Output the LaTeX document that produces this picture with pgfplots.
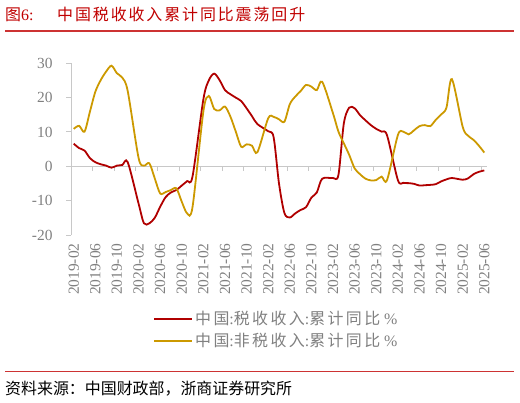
\documentclass[border=0pt]{standalone}
\usepackage{pgfplots}
\usepackage{pgfplotstable}
\pgfplotsset{compat=1.18}
\usepackage{fontspec}
\setmainfont{Liberation Serif}
\newfontfamily\cjk{Noto Sans CJK SC}
\newfontfamily\cjkls{Noto Sans CJK SC}[LetterSpace=12]
\newfontfamily\cjkleg{Noto Sans CJK SC}[LetterSpace=15]
\definecolor{taxred}{RGB}{176,0,0}
\definecolor{gold}{RGB}{204,153,0}
\definecolor{tickgray}{RGB}{128,128,128}
\definecolor{axgray}{RGB}{200,200,200}
\definecolor{titlered}{RGB}{192,0,0}

\pgfplotstableread{
x y
0.5 6.6
1.5 5.3
2.5 4.6
3.5 2.4
4.5 1.2
5.5 0.6
6.5 0.2
7.5 -0.4
8.5 0.2
9.5 0.4
10.5 1.2
12.5 -10.8
13.5 -16.6
14.5 -16.6
15.5 -15.0
16.5 -11.8
17.5 -9.0
18.5 -7.6
19.5 -6.9
20.5 -5.6
21.5 -4.3
22.5 -2.9
24.5 19.5
25.5 25.0
26.5 27.0
27.5 25.1
28.5 22.2
29.5 21.0
30.5 20.0
31.5 19.0
32.5 16.9
33.5 14.6
34.5 12.3
36.5 10.2
37.5 8.5
38.5 -5.0
39.5 -13.6
40.5 -14.9
41.5 -13.7
42.5 -12.7
43.5 -11.9
44.5 -9.1
45.5 -7.6
46.5 -3.6
48.5 -3.4
49.5 -2.5
50.5 12.5
51.5 17.1
52.5 16.9
53.5 14.9
54.5 13.4
55.5 12.0
56.5 10.9
57.5 10.1
58.5 9.0
60.5 -4.0
61.5 -4.8
62.5 -4.9
63.5 -5.1
64.5 -5.6
65.5 -5.5
66.5 -5.4
67.5 -5.2
68.5 -4.4
69.5 -3.8
70.5 -3.4
72.5 -3.9
73.5 -3.5
74.5 -2.3
75.5 -1.6
76.5 -1.2
}\taxdata

\pgfplotstableread{
x y
0.5 10.9
1.5 11.8
2.5 10.1
3.5 15.9
4.5 21.7
5.5 25.1
6.5 27.6
7.5 29.3
8.5 27.1
9.5 25.8
10.5 21.9
12.5 2.5
13.5 0.2
14.5 0.9
15.5 -3.5
16.5 -7.9
17.5 -7.5
18.5 -6.9
19.5 -6.4
20.5 -10.3
21.5 -13.7
22.5 -11.8
24.5 16.0
25.5 20.5
26.5 16.7
27.5 16.3
28.5 17.4
29.5 14.5
30.5 10.1
31.5 5.7
32.5 6.4
33.5 6.0
34.5 4.1
36.5 14.0
37.5 14.4
38.5 13.7
39.5 13.0
40.5 18.1
41.5 20.3
42.5 21.9
43.5 23.7
44.5 23.2
45.5 22.2
46.5 24.6
48.5 15.4
49.5 10.1
50.5 6.7
51.5 3.3
52.5 -0.6
53.5 -2.3
54.5 -3.6
55.5 -4.1
56.5 -4.0
57.5 -3.0
58.5 -4.0
60.5 9.1
61.5 10.1
62.5 9.3
63.5 10.5
64.5 11.7
65.5 12.0
66.5 11.7
67.5 13.5
68.5 15.1
69.5 17.1
70.5 25.4
72.5 11.5
73.5 8.9
74.5 7.7
75.5 6.0
76.5 4.0
}\nontaxdata

\begin{document}
\begin{tikzpicture}[x=1bp,y=1bp]
\path[use as bounding box] (0,0) rectangle (520,402);
\node[anchor=base west, text=titlered, font=\fontsize{16}{18}\selectfont, inner sep=0] at (5,382) {{\cjk 图}6:};
\node[anchor=base west, text=titlered, font=\fontsize{16}{18}\selectfont, inner sep=0] at (57,382) {\cjkls 中国税收收入累计同比震荡回升};
\draw[titlered!80, line width=1.2] (5,371) -- (514,371);
\draw[titlered!80, line width=1.2] (5,30.3) -- (514,30.3);
\node[anchor=base west, font=\fontsize{16}{18}\selectfont, inner sep=0] at (5,8) {\cjk 资料来源：中国财政部，浙商证券研究所};

\begin{axis}[
  at={(71bp,167bp)}, anchor=south west,
  scale only axis, width=416bp, height=171.7bp,
  xmin=0, xmax=77, ymin=-20, ymax=30,
  axis lines*=left,
  x axis line style={draw=none},
  y axis line style={-, axgray, line width=1bp},
  tick align=outside,
  major tick length=5bp,
  xtick={0.5,4.5,...,76.5},
  xticklabels={2019-02,2019-06,2019-10,2020-02,2020-06,2020-10,2021-02,2021-06,2021-10,2022-02,2022-06,2022-10,2023-02,2023-06,2023-10,2024-02,2024-06,2024-10,2025-02,2025-06},
  x tick style={draw=none},
  xticklabel style={rotate=90, anchor=east, font=\fontsize{15.5}{17}\selectfont, text=tickgray},
  ytick={-20,-10,0,10,20,30},
  yticklabels={-20,-10,0,10,20,30},
  y tick style={axgray, line width=1bp},
  yticklabel style={font=\fontsize{15.5}{17}\selectfont, text=tickgray, xshift=-10bp},
  clip=false,
  legend style={at={(0.19,-0.42)}, anchor=north west, draw=none, fill=none,
    font=\fontsize{16}{18}\selectfont, text=tickgray, row sep=3bp},
  legend cell align=left,
  legend image code/.code={\draw[#1, line width=2bp] (0bp,0bp) -- (38bp,0bp);},
]
\draw[axgray, line width=1bp] (axis cs:0,0) -- (axis cs:77,0);
\pgfplotsinvokeforeach{4,8,...,76}{\draw[axgray, line width=1bp] (axis cs:#1,0) -- ([yshift=-5bp]axis cs:#1,0);}
\addplot[taxred, line width=1.8bp, smooth, tension=0.5] table[x=x,y=y] {\taxdata};
\addlegendentry{{\cjkleg 中国}:{\cjkleg 税收收入}:{\cjkleg 累计同比} \%}
\addplot[gold, line width=1.8bp, smooth, tension=0.5] table[x=x,y=y] {\nontaxdata};
\addlegendentry{{\cjkleg 中国}:{\cjkleg 非税收入}:{\cjkleg 累计同比} \%}
\end{axis}
\end{tikzpicture}
\end{document}
